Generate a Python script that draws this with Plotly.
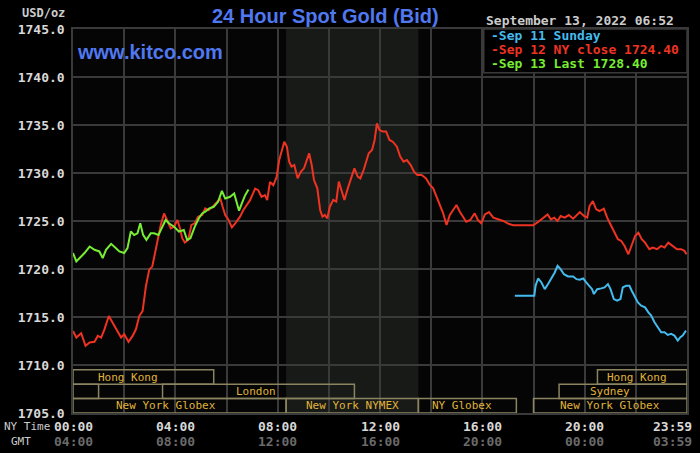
import plotly.graph_objects as go

# hours since NY midnight, price USD/oz
red_hours = [0.0, 0.13, 0.32, 0.49, 0.65, 0.84, 0.97, 1.10, 1.23, 1.40, 1.55, 1.68, 1.88, 2.0, 2.17,
             2.33, 2.46, 2.59, 2.72, 2.85, 2.98, 3.10, 3.21, 3.30, 3.43, 3.56, 3.69, 3.82, 3.95, 4.08,
             4.18, 4.27, 4.37, 4.50, 4.63, 4.76, 4.89, 5.05, 5.17, 5.30, 5.46, 5.63, 5.76, 5.85, 5.95,
             6.08, 6.21, 6.34, 6.53, 6.66, 6.79, 6.92, 7.12, 7.24, 7.37, 7.50, 7.59, 7.70, 7.83, 7.96,
             8.06, 8.16, 8.26, 8.36, 8.45, 8.54, 8.65, 8.78, 8.91, 9.03, 9.14, 9.23, 9.33, 9.42, 9.55,
             9.66, 9.75, 9.84, 9.94, 10.04, 10.17, 10.29, 10.39, 10.48, 10.61, 10.74, 10.87, 11.0, 11.13,
             11.23, 11.36, 11.47, 11.56, 11.69, 11.79, 11.88, 11.98, 12.11, 12.24, 12.37, 12.50, 12.66,
             12.79, 12.92, 13.05, 13.20, 13.33, 13.46, 13.63, 13.80, 13.95, 14.08, 14.21, 14.34, 14.47,
             14.60, 14.73, 14.86, 14.99, 15.12, 15.24, 15.37, 15.53, 15.70, 15.83, 15.96, 16.10, 16.26,
             16.43, 16.62, 16.82, 17.01, 17.21, 17.40, 17.66, 17.99, 18.18, 18.38, 18.55, 18.68, 18.81,
             18.94, 19.06, 19.22, 19.38, 19.55, 19.68, 19.81, 19.97, 20.10, 20.19, 20.32, 20.45, 20.58,
             20.75, 20.88, 21.04, 21.17, 21.30, 21.43, 21.56, 21.71, 21.84, 21.97, 22.10, 22.23, 22.36,
             22.53, 22.66, 22.83, 22.99, 23.12, 23.27, 23.44, 23.61, 23.77, 23.90, 23.98]
red_prices = [1713.55, 1712.86, 1713.31, 1712.0, 1712.34, 1712.41, 1713.03, 1712.86, 1713.72, 1715.1,
              1714.41, 1713.79, 1712.86, 1713.2, 1712.41, 1713.03, 1713.72, 1715.1, 1715.62, 1718.21,
              1719.93, 1720.28, 1721.66, 1723.03, 1724.59, 1725.79, 1725.1, 1724.24, 1724.41, 1725.1,
              1724.24, 1723.21, 1722.76, 1723.03, 1724.59, 1724.76, 1725.45, 1725.62, 1726.31, 1726.14,
              1726.48, 1727.0, 1727.34, 1726.48, 1725.62, 1725.1, 1724.34, 1724.76, 1725.45, 1726.14,
              1726.66, 1727.17, 1728.38, 1728.21, 1727.52, 1727.69, 1727.17, 1729.07, 1728.72, 1729.59,
              1731.35, 1732.4, 1733.26, 1732.74, 1731.18, 1730.66, 1730.83, 1729.44, 1730.14, 1730.49,
              1731.35, 1732.05, 1730.83, 1729.27, 1728.4, 1726.15, 1725.45, 1725.63, 1725.28, 1726.49,
              1727.19, 1727.01, 1729.1, 1728.23, 1727.19, 1728.4, 1729.44, 1730.49, 1729.62, 1729.44,
              1730.31, 1731.35, 1732.05, 1732.4, 1733.44, 1735.17, 1734.48, 1734.31, 1734.31, 1733.44,
              1733.26, 1732.74, 1731.7, 1731.18, 1731.35, 1730.83, 1730.14, 1729.79, 1729.79, 1729.44,
              1728.75, 1728.4, 1727.53, 1726.84, 1725.8, 1724.58, 1725.63, 1726.15, 1726.67, 1725.97,
              1725.45, 1724.93, 1725.1, 1725.8, 1725.1, 1724.76, 1725.69, 1725.93, 1725.35, 1725.17,
              1725.0, 1724.72, 1724.55, 1724.55, 1724.55, 1724.55, 1724.9, 1725.35, 1725.69, 1725.17,
              1725.35, 1725.0, 1725.52, 1725.35, 1725.62, 1725.24, 1725.59, 1725.93, 1725.52, 1725.35,
              1726.56, 1727.08, 1726.21, 1726.04, 1726.28, 1725.35, 1724.48, 1723.79, 1723.1, 1722.92,
              1722.4, 1721.54, 1722.4, 1723.44, 1723.79, 1723.1, 1722.75, 1722.06, 1722.23, 1722.06,
              1722.4, 1722.23, 1722.75, 1722.4, 1722.06, 1722.06, 1721.89, 1721.54]

green_hours = [0.0, 0.13, 0.26, 0.45, 0.65, 0.84, 1.03, 1.16, 1.29, 1.49, 1.68, 1.81, 2.0, 2.13, 2.26,
               2.39, 2.52, 2.63, 2.74, 2.87, 3.04, 3.17, 3.34, 3.49, 3.62, 3.75, 3.95, 4.14, 4.33, 4.46,
               4.59, 4.76, 4.92, 5.05, 5.17, 5.33, 5.50, 5.67, 5.82, 5.95, 6.14, 6.30, 6.40, 6.49, 6.60,
               6.73, 6.86]
green_prices = [1721.66, 1720.79, 1721.14, 1721.66, 1722.34, 1722.0, 1721.83, 1721.14, 1722.0, 1722.62,
                1722.17, 1721.83, 1721.66, 1722.17, 1723.9, 1723.55, 1723.72, 1724.76, 1723.55, 1723.03,
                1723.72, 1723.72, 1723.55, 1724.41, 1725.1, 1724.76, 1724.41, 1723.9, 1724.07, 1723.03,
                1723.21, 1724.41, 1725.28, 1725.79, 1725.97, 1726.31, 1726.48, 1727.0, 1728.14, 1727.34,
                1727.52, 1727.86, 1727.0, 1726.07, 1726.83, 1727.69, 1728.28]

blue_hours = [17.27, 18.03, 18.08, 18.18, 18.31, 18.44, 18.57, 18.73, 18.83, 18.94, 19.06, 19.19, 19.35,
              19.55, 19.68, 19.81, 19.94, 20.06, 20.19, 20.29, 20.36, 20.49, 20.65, 20.78, 20.91, 21.01,
              21.14, 21.27, 21.40, 21.49, 21.62, 21.75, 21.84, 21.95, 22.08, 22.21, 22.36, 22.49, 22.60,
              22.73, 22.86, 22.99, 23.12, 23.25, 23.38, 23.51, 23.64, 23.74, 23.83, 23.96]
blue_prices = [1717.21, 1717.21, 1718.25, 1719.01, 1718.6, 1717.9, 1718.43, 1719.12, 1719.64, 1720.33,
               1719.98, 1719.46, 1719.22, 1719.22, 1718.94, 1718.88, 1719.01, 1718.6, 1718.25, 1717.9,
               1717.39, 1717.9, 1717.98, 1718.08, 1718.43, 1717.9, 1716.87, 1716.7, 1716.87, 1718.08,
               1718.25, 1718.25, 1717.73, 1717.21, 1716.52, 1716.18, 1716.0, 1715.48, 1715.14, 1714.45,
               1713.93, 1713.41, 1713.41, 1713.13, 1713.24, 1713.06, 1712.54, 1712.89, 1713.06, 1713.58]

# trading sessions: name, start hour, end hour, row (1 = top), label hour
session_names = ["Hong Kong", "", "London", "New York Globex", "New York NYMEX", "NY Globex",
                 "Hong Kong", "Sydney", "New York Globex"]
session_start = [0.0, 0.0, 3.5, 0.0, 8.33, 13.5, 20.5, 19.0, 18.0]
session_end = [5.5, 1.0, 11.0, 8.33, 13.5, 17.33, 24.0, 24.0, 24.0]
session_row = [1, 2, 2, 3, 3, 3, 1, 2, 3]
session_label_at = [2.14, 0.5, 7.17, 3.65, 10.92, 15.2, 22.05, 20.99, 20.99]

nymex_start, nymex_end = 8.33, 13.5

x_ticks = [0, 4, 8, 12, 16, 20, 23.983]
ny_labels = ["00:00", "04:00", "08:00", "12:00", "16:00", "20:00", "23:59"]
gmt_labels = ["04:00", "08:00", "12:00", "16:00", "20:00", "00:00", "03:59"]

legend_texts = ["-Sep 11 Sunday", "-Sep 12 NY close 1724.40", "-Sep 13 Last 1728.40"]
RED, GREEN, BLUE = "#ee3322", "#77ee33", "#44bbee"
legend_colors = [BLUE, RED, GREEN]

GRID = "#3a3a3a"
BOX = "#8a8560"
GOLD = "#e0b43a"
MONO = "DejaVu Sans Mono"

fig = go.Figure()
for hrs, prs, col, nm in [(red_hours, red_prices, RED, "Sep 12"),
                          (blue_hours, blue_prices, BLUE, "Sep 11"),
                          (green_hours, green_prices, GREEN, "Sep 13")]:
    fig.add_trace(go.Scatter(x=hrs, y=prs, mode="lines", name=nm,
                             line=dict(color=col, width=2), showlegend=False))

# NYMEX shading
fig.add_shape(type="rect", xref="x", yref="paper", x0=nymex_start, x1=nymex_end, y0=0, y1=1,
              fillcolor="#181a18", line_width=0, layer="below")

# session boxes, each row 1.5 USD tall above 1705
row_bottom = {1: 1708.0, 2: 1706.5, 3: 1705.0}
for nm, s, e, r, lx in zip(session_names, session_start, session_end, session_row, session_label_at):
    y0 = row_bottom[r]
    fig.add_shape(type="rect", xref="x", yref="y", x0=s, x1=e, y0=y0, y1=y0 + 1.5,
                  line=dict(color=BOX, width=1.5))
    if nm:
        fig.add_annotation(x=lx, y=y0 + 0.75, xref="x", yref="y", text=nm, showarrow=False,
                           font=dict(family=MONO, size=11, color=GOLD))

# legend box
fig.add_shape(type="rect", xref="paper", yref="paper", x0=0.669, x1=1, y0=0.886, y1=1,
              fillcolor="black", line=dict(color=GRID, width=1.5))
for i, (txt, col) in enumerate(zip(legend_texts, legend_colors)):
    fig.add_annotation(x=0.678, y=0.982 - i * 0.0365, xref="paper", yref="paper", text=txt,
                       showarrow=False, xanchor="left", yanchor="middle",
                       font=dict(family=MONO, size=13, color=col, weight="bold"))

# x labels, two rows
for i, (xv, ny, gmt) in enumerate(zip(x_ticks, ny_labels, gmt_labels)):
    anchor = "right" if i == len(x_ticks) - 1 else "center"
    shift = 7 if anchor == "right" else 0
    fig.add_annotation(x=xv, y=-0.034, xref="x", yref="paper", text=ny, showarrow=False,
                       xanchor=anchor, xshift=shift, yanchor="middle",
                       font=dict(family=MONO, size=13, color="#d8d8d8", weight="bold"))
    fig.add_annotation(x=xv, y=-0.073, xref="x", yref="paper", text=gmt, showarrow=False,
                       xanchor=anchor, xshift=shift, yanchor="middle",
                       font=dict(family=MONO, size=13, color="#6a6a6a", weight="bold"))

fig.add_annotation(x=-0.115, y=-0.034, xref="paper", yref="paper", text="NY Time", showarrow=False,
                   xanchor="left", yanchor="middle", font=dict(family=MONO, size=11, color="#cccccc"))
fig.add_annotation(x=-0.084, y=-0.073, xref="paper", yref="paper", text="GMT", showarrow=False,
                   xanchor="center", yanchor="middle", font=dict(family=MONO, size=11, color="#cccccc"))
fig.add_annotation(x=-0.0097, y=1.042, xref="paper", yref="paper", text="USD/oz", showarrow=False,
                   xanchor="right", yanchor="middle",
                   font=dict(family=MONO, size=12, color="#cccccc", weight="bold"))

fig.add_annotation(x=0.412, y=1.034, xref="paper", yref="paper", text="24 Hour Spot Gold (Bid)",
                   showarrow=False, yanchor="middle",
                   font=dict(family="Liberation Sans", size=20, color="#5078f0", weight="bold"))
fig.add_annotation(x=0.004, y=0.940, xref="paper", yref="paper", text="www.kitco.com",
                   showarrow=False, xanchor="left", yanchor="middle",
                   font=dict(family="Liberation Sans", size=20, color="#5078f0", weight="bold"))
fig.add_annotation(x=0.982, y=1.023, xref="paper", yref="paper", text="September 13, 2022 06:52",
                   showarrow=False, xanchor="right", yanchor="middle",
                   font=dict(family=MONO, size=13, color="#cccccc", weight="bold"))

fig.update_xaxes(range=[0, 24], tickvals=list(range(0, 24, 2)), showticklabels=False,
                 showgrid=True, gridcolor=GRID, gridwidth=1.5, zeroline=False,
                 showline=True, linecolor=GRID, linewidth=1.5, mirror=True)
fig.update_yaxes(range=[1705, 1745], dtick=5, tickformat=".1f", showgrid=True, gridcolor=GRID,
                 gridwidth=1.5, zeroline=False, showline=True, linecolor=GRID, linewidth=1.5,
                 mirror=True, ticklabelstandoff=4,
                 tickfont=dict(family=MONO, size=13, color="#d8d8d8", weight="bold"))

fig.update_layout(width=700, height=453, paper_bgcolor="black", plot_bgcolor="#050505",
                  margin=dict(l=73, r=11, t=29, b=40), showlegend=False)

# page body has a default margin; drop it so the figure sits at the window corner
fig.write_html("out.html", config={"displayModeBar": False},
               post_script="document.body.style.margin='0';document.body.style.background='black';")
